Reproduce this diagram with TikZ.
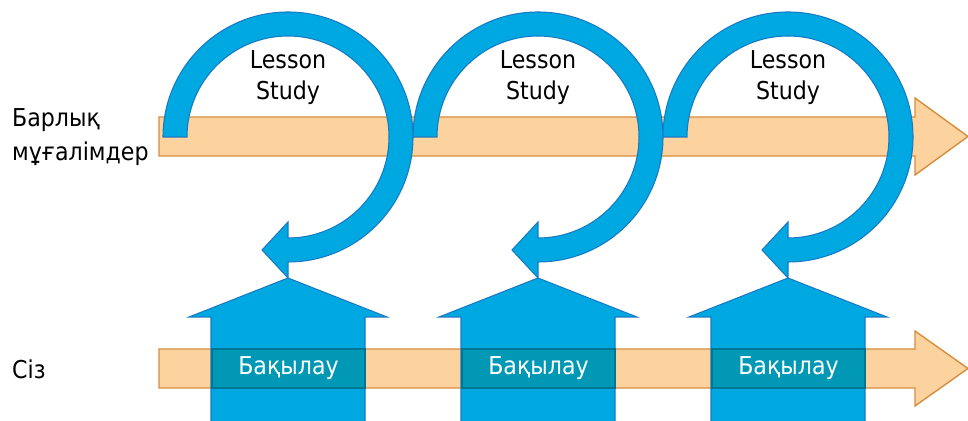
\documentclass[tikz,border=0pt]{standalone}
\usepackage{fontspec}
\setmainfont{DejaVu Sans}
\newfontfamily\narrowfont{DejaVu Sans Condensed}
\definecolor{cycleblue}{RGB}{0,168,226}
\definecolor{cycleedge}{RGB}{24,122,196}
\definecolor{bandfill}{RGB}{252,210,158}
\definecolor{bandedge}{RGB}{214,142,62}
\definecolor{obsfill}{RGB}{0,152,180}
\definecolor{obsedge}{RGB}{0,118,146}
\tikzset{
  band/.style={fill=bandfill, draw=bandedge, line width=0.8pt, line join=miter},
  bluearrow/.style={fill=cycleblue, draw=cycleedge, line width=0.6pt, line join=miter},
  obsbox/.style={fill=obsfill, draw=obsedge, line width=0.6pt, minimum width=153*0.02cm, minimum height=39*0.02cm, inner sep=0pt, text=white, font=\narrowfont\fontsize{14}{17}\selectfont},
  lbl/.style={font=\narrowfont\fontsize{14}{17.6}\selectfont, align=center},
  side/.style={font=\narrowfont\fontsize{14}{19}\selectfont, align=left, anchor=west},
}

\begin{document}
\begin{tikzpicture}[x=0.02cm, y=-0.02cm]
\useasboundingbox (0,0) rectangle (968,421);
% two timelines
\draw[band] (159,117) -- (915,117) -- (915,98) -- (968,136.5) -- (915,175) -- (915,156) -- (159,156) -- cycle;
\draw[band] (159,349) -- (915,349) -- (915,331) -- (968,368.5) -- (915,406) -- (915,388) -- (159,388) -- cycle;
% three rounds: observation arrow, lesson study cycle
\foreach \cx [count=\i] in {288,538,788} {
  \draw[bluearrow] (\cx-77,430) -- (\cx-77,317) -- (\cx-99,317) -- (\cx,278) -- (\cx+99,317) -- (\cx+77,317) -- (\cx+77,430);
  \draw[bluearrow] (\cx-125,137) arc[start angle=180, end angle=450, radius=125]
    -- (\cx,278) -- (\cx-26,250) -- (\cx,222) -- (\cx,238)
    arc[start angle=450, end angle=180, radius=101] -- cycle;
  \node[lbl] (study\i) at (\cx,78) {Lesson\\Study};
  \node[obsbox] (obs\i) at (\cx+0.5,368.5) {Бақылау};
}
\node[side] (all) at (6,137) {Барлық\\мұғалімдер};
\node[side] (you) at (6,369) {Сіз};
\end{tikzpicture}
\end{document}
